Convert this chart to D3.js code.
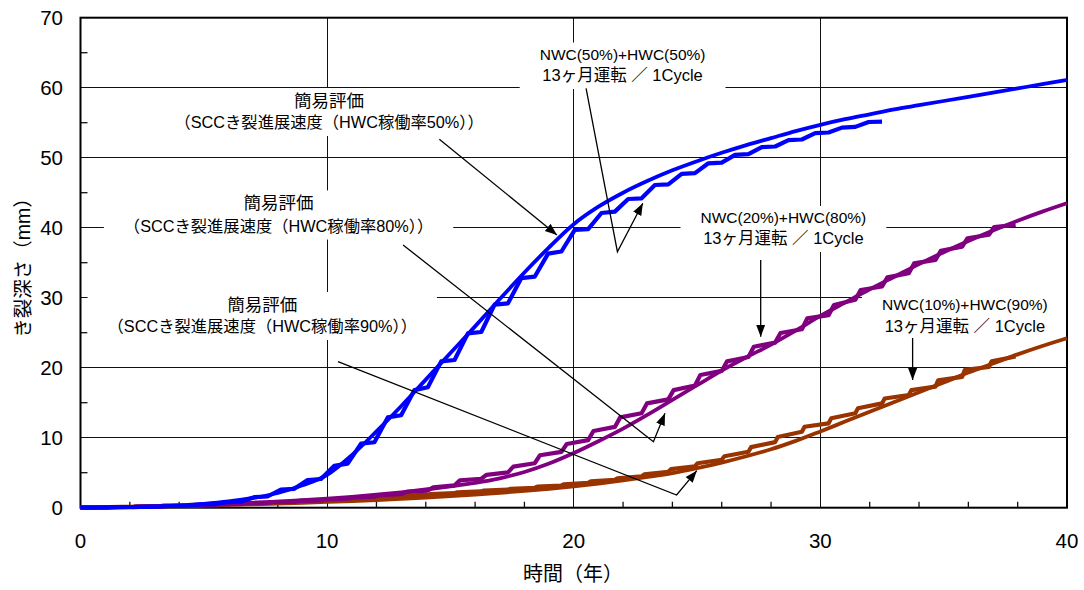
<!DOCTYPE html>
<html>
<head>
<meta charset="utf-8">
<script src="https://cdn.jsdelivr.net/npm/d3@7"></script>
<style>
  body { margin: 0; background: #fff; }
  svg { display: block; }
  text { font-family: "Liberation Sans", "Noto Sans CJK JP", sans-serif; fill: #000; }
</style>
</head>
<body>
<svg id="chart" width="1084" height="590"></svg>
<script>
// ---- axis ticks ----
const xTickLabels = [0, 10, 20, 30, 40];
const yTickLabels = [0, 10, 20, 30, 40, 50, 60, 70];
const xGridValues = [10, 20, 30];
const yGridValues = [10, 20, 30, 40, 50, 60];
const xMinorTicks = [2, 4, 6, 8, 12, 14, 16, 18, 22, 24, 26, 28, 32, 34, 36, 38];
const yMinorTicks = [5, 15, 25, 35, 45, 55, 65];

// ---- simplified evaluation curves (depth in mm at each year 0..40) ----
const years = d3.range(0, 41);
const simpleHWC50 = [0, 0.02, 0.07, 0.15, 0.3, 0.55, 0.9, 1.4, 2.1, 3.2, 4.7, 7.5, 10.9, 14.5, 18.3, 22.1, 25.9, 29.8, 33.6, 37.2, 40.5,
  43.0, 45.0, 46.7, 48.2, 49.5, 50.7, 51.8, 52.8, 53.8, 54.7, 55.5, 56.2, 56.9, 57.5, 58.1, 58.7, 59.3, 59.9, 60.5, 61.1];
const simpleHWC80 = [0, 0.05, 0.12, 0.2, 0.3, 0.42, 0.55, 0.7, 0.88, 1.08, 1.3, 1.55, 1.85, 2.2, 2.6, 3.05, 3.55, 4.2, 5.1, 6.3, 7.8,
  9.5, 11.3, 13.3, 15.4, 17.5, 19.6, 21.5, 23.3, 25.3, 27.4, 29.3, 31.2, 33.0, 34.8, 36.5, 38.1, 39.6, 41.0, 42.3, 43.5];
const simpleHWC90 = [0, 0.05, 0.1, 0.16, 0.23, 0.31, 0.4, 0.49, 0.59, 0.7, 0.82, 0.95, 1.1, 1.27, 1.45, 1.65, 1.88, 2.13, 2.4, 2.7, 3.05,
  3.45, 3.9, 4.4, 4.95, 5.65, 6.45, 7.35, 8.35, 9.55, 10.9, 12.3, 13.7, 15.1, 16.5, 17.9, 19.3, 20.6, 21.9, 23.1, 24.2];

// ---- cycle-by-cycle evaluation (13 months per cycle, NWC period first) ----
const cycleYears = 13 / 12;
// depth at the start of each cycle, and at the end of its NWC period
const cycNWC50Start = [0, 0.04, 0.09, 0.17, 0.3, 0.5, 0.85, 1.6, 2.7, 4.1, 6.3, 9.35, 13.2, 17.2, 21.1, 25.1, 29.2, 33.0, 36.6, 39.8,
  42.3, 44.2, 46.2, 47.8, 49.3, 50.5, 51.6, 52.6, 53.6, 54.4, 55.15];
const cycNWC50End = [0.03, 0.08, 0.16, 0.28, 0.47, 0.8, 1.5, 2.6, 3.95, 6.0, 9.15, 12.9, 16.8, 20.9, 24.9, 29.0, 32.8, 36.3, 39.7, 42.1,
  44.1, 46.1, 47.7, 49.2, 50.4, 51.5, 52.5, 53.5, 54.3, 55.1];
const cycNWC20Start = [0, 0.06, 0.12, 0.2, 0.29, 0.4, 0.52, 0.67, 0.84, 1.04, 1.28, 1.57, 1.94, 2.45, 3.2, 4.14, 5.05, 6.35, 7.98, 9.66,
  11.54, 13.5, 15.47, 17.45, 19.54, 21.53, 23.58, 25.5, 27.5, 29.7, 31.6, 33.5, 35.4, 37.3, 39.0, 40.4];
const cycNWC20End = [0.04, 0.1, 0.17, 0.26, 0.36, 0.48, 0.62, 0.78, 0.97, 1.2, 1.47, 1.8, 2.25, 2.9, 3.9, 4.7, 5.86, 7.5, 9.1, 10.96,
  12.9, 14.9, 16.8, 18.96, 20.9, 23.0, 24.95, 27.05, 28.96, 31.1, 32.9, 34.9, 36.7, 38.5, 40.1];
const cycNWC10Start = [0, 0.065, 0.145, 0.24, 0.345, 0.46, 0.585, 0.72, 0.875, 1.03, 1.21, 1.4, 1.61, 1.83, 2.07, 2.32, 2.57, 2.85, 3.17, 3.55,
  3.97, 4.47, 5.12, 5.92, 6.85, 8.0, 9.37, 10.86, 12.05, 13.5, 14.9, 16.1, 17.3, 18.7, 20.1, 21.6];
const cycNWC10End = [0.03, 0.1, 0.19, 0.29, 0.4, 0.52, 0.65, 0.8, 0.95, 1.12, 1.3, 1.5, 1.72, 1.95, 2.2, 2.45, 2.7, 3.0, 3.35, 3.75,
  4.2, 4.75, 5.5, 6.35, 7.35, 8.65, 10.1, 11.57, 12.77, 14.2, 15.6, 16.8, 18.2, 19.7, 20.9];

const colors = { hwc50: "#0000ff", hwc80: "#800080", hwc90: "#993300" };

const svg = d3.select("#chart");
const x = d3.scaleLinear().domain([0, 40]).range([80.5, 1067]);
const y = d3.scaleLinear().domain([0, 70]).range([507.7, 17.7]);

// gridlines
const grid = svg.append("g").attr("stroke", "#111").attr("stroke-width", 1.2).attr("shape-rendering", "crispEdges");
grid.selectAll("line.h").data(yGridValues).join("line")
  .attr("x1", x(0)).attr("x2", x(40)).attr("y1", d => y(d)).attr("y2", d => y(d));
grid.selectAll("line.v").data(xGridValues).join("line")
  .attr("y1", y(0)).attr("y2", y(70)).attr("x1", d => x(d)).attr("x2", d => x(d));

// minor ticks, drawn inward
const ticks = svg.append("g").attr("stroke", "#111").attr("stroke-width", 1.3);
ticks.selectAll("line.xm").data(xMinorTicks).join("line")
  .attr("x1", d => x(d)).attr("x2", d => x(d)).attr("y1", y(0)).attr("y2", y(0) - 6);
ticks.selectAll("line.ym").data(yMinorTicks).join("line")
  .attr("y1", d => y(d)).attr("y2", d => y(d)).attr("x1", x(0)).attr("x2", x(0) + 7);

// annotation texts with white backing boxes that interrupt the grid
const notes = [
  { lines: ["簡易評価", "（SCCき裂進展速度（HWC稼働率50%））"], t: 10.08, d: [58.1, 55.1], sizes: [17.5, 16.3] },
  { lines: ["簡易評価", "（SCCき裂進展速度（HWC稼働率80%））"], t: 8.03, d: [43.46, 40.31], sizes: [17.5, 16.3] },
  { lines: ["簡易評価", "（SCCき裂進展速度（HWC稼働率90%））"], t: 7.37, d: [28.96, 25.96], sizes: [17.5, 16.3] },
  { lines: ["NWC(50%)+HWC(50%)", "13ヶ月運転 ／ 1Cycle"], t: 21.98, d: [64.81, 61.81], sizes: [15.5, 16.5] },
  { lines: ["NWC(20%)+HWC(80%)", "13ヶ月運転 ／ 1Cycle"], t: 28.5, d: [41.46, 38.53], sizes: [15.5, 16.5] },
  { lines: ["NWC(10%)+HWC(90%)", "13ヶ月運転 ／ 1Cycle"], t: 35.86, d: [29.1, 25.96], sizes: [15.5, 16.5] }
];
const noteLayer = svg.append("g");
notes.forEach(n => {
  const g = noteLayer.append("g");
  const rect = g.append("rect").attr("fill", "#fff");
  n.lines.forEach((s, i) => {
    g.append("text")
      .attr("x", x(n.t)).attr("y", y(n.d[i]))
      .attr("text-anchor", "middle").attr("dominant-baseline", "central")
      .attr("font-size", n.sizes[i])
      .text(s);
  });
  const b = g.node().getBBox();
  rect.attr("x", b.x - 20).attr("y", b.y - 3).attr("width", b.width + 40).attr("height", b.height + 8);
});

// frame
svg.append("rect")
  .attr("x", x(0)).attr("y", y(70)).attr("width", x(40) - x(0)).attr("height", y(0) - y(70))
  .attr("fill", "none").attr("stroke", "#000").attr("stroke-width", 2);

// tick labels
svg.append("g").selectAll("text").data(xTickLabels).join("text")
  .attr("x", d => x(d)).attr("y", 548).attr("text-anchor", "middle").attr("font-size", 20.5).text(d => d);
svg.append("g").selectAll("text").data(yTickLabels).join("text")
  .attr("x", 63).attr("y", d => y(d)).attr("text-anchor", "end").attr("dominant-baseline", "central")
  .attr("font-size", 20.5).text(d => d);

// axis titles
svg.append("text").attr("x", 573).attr("y", 574).attr("text-anchor", "middle").attr("dominant-baseline", "central")
  .attr("font-size", 20).text("時間（年）");
svg.append("text").attr("transform", "translate(23,263) rotate(-90)").attr("text-anchor", "middle")
  .attr("dominant-baseline", "central").attr("font-size", 19.5).text("き裂深さ（mm）");

// curves
const smoothLine = d3.line().x(d => x(d[0])).y(d => y(d[1])).curve(d3.curveMonotoneX);
const stepLine = d3.line().x(d => x(d[0])).y(d => y(d[1]));

function cyclePoints(starts, ends, nwcShare) {
  const pts = [];
  ends.forEach((e, k) => {
    pts.push([k * cycleYears, starts[k]]);
    pts.push([(k + nwcShare) * cycleYears, e]);
  });
  pts.push([ends.length * cycleYears, starts[ends.length]]);
  return pts;
}

const series = [
  { simple: simpleHWC90, starts: cycNWC10Start, ends: cycNWC10End, share: 0.1, color: colors.hwc90 },
  { simple: simpleHWC80, starts: cycNWC20Start, ends: cycNWC20End, share: 0.2, color: colors.hwc80 },
  { simple: simpleHWC50, starts: cycNWC50Start, ends: cycNWC50End, share: 0.5, color: colors.hwc50 }
];
const curves = svg.append("g").attr("fill", "none").attr("stroke-linejoin", "round");
series.forEach(s => {
  curves.append("path").attr("d", stepLine(cyclePoints(s.starts, s.ends, s.share)))
    .attr("stroke", s.color).attr("stroke-width", 4.2);
  curves.append("path").attr("d", smoothLine(years.map((t, i) => [t, s.simple[i]])))
    .attr("stroke", s.color).attr("stroke-width", 3.8);
});

// leader lines and arrows
svg.append("defs").append("marker")
  .attr("id", "head").attr("viewBox", "0 0 10 10").attr("refX", 10).attr("refY", 5)
  .attr("markerWidth", 12).attr("markerHeight", 12).attr("markerUnits", "userSpaceOnUse")
  .attr("orient", "auto")
  .append("path").attr("d", "M0,1.2 L10,5 L0,8.8 Z").attr("fill", "#000");

const leaders = [
  [[14.55, 52.63], [19.32, 38.96]],
  [[20.5, 59.91], [21.77, 36.57], [22.8, 43.49]],
  [[13.08, 37.53], [23.23, 9.43], [23.7, 13.49]],
  [[10.44, 20.86], [24.17, 1.81], [24.99, 5.29]],
  [[27.58, 35.39], [27.58, 24.43]],
  [[33.74, 24.24], [33.74, 18.24]]
];
const leaderLine = d3.line().x(d => x(d[0])).y(d => y(d[1]));
svg.append("g").selectAll("path").data(leaders).join("path")
  .attr("d", leaderLine).attr("fill", "none").attr("stroke", "#000").attr("stroke-width", 1.3)
  .attr("marker-end", "url(#head)");
</script>
</body>
</html>
